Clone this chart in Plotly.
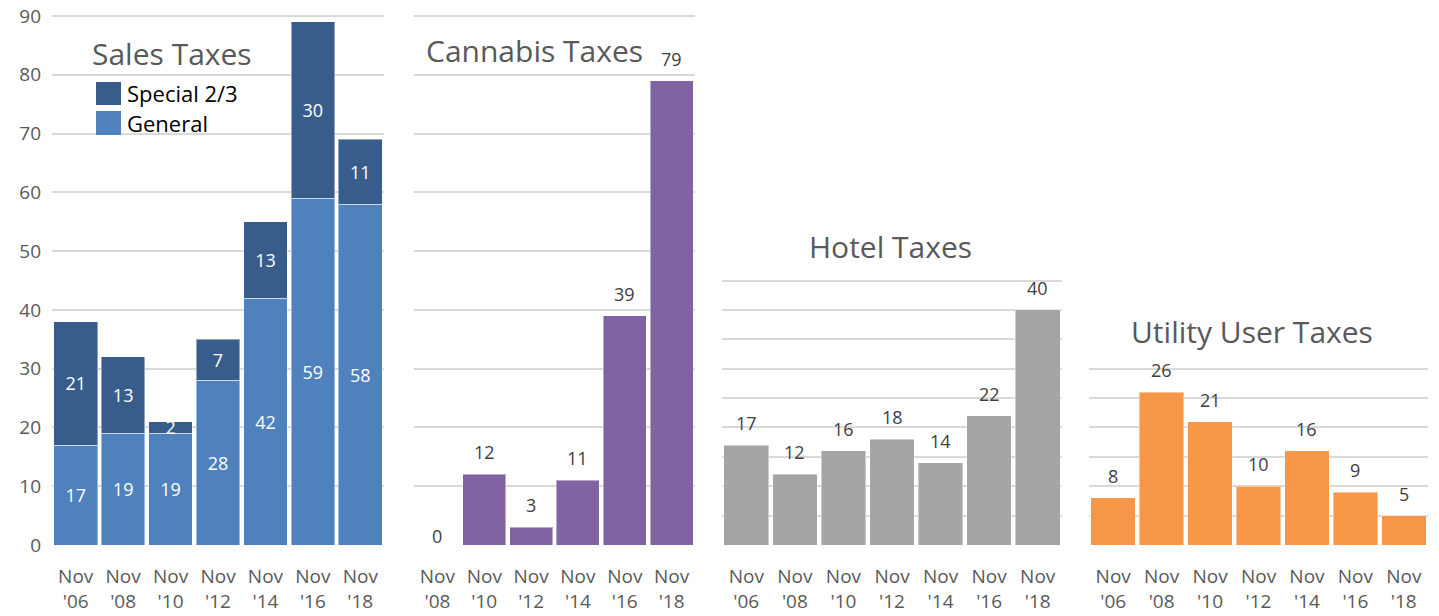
import plotly.graph_objects as go

# ---------------- data ----------------
sales_cats = ["Nov '06", "Nov '08", "Nov '10", "Nov '12", "Nov '14", "Nov '16", "Nov '18"]
sales_general = [17, 19, 19, 28, 42, 59, 58]
sales_special = [21, 13, 2, 7, 13, 30, 11]

cannabis_cats = ["Nov '08", "Nov '10", "Nov '12", "Nov '14", "Nov '16", "Nov '18"]
cannabis_vals = [0, 12, 3, 11, 39, 79]

hotel_cats = ["Nov '06", "Nov '08", "Nov '10", "Nov '12", "Nov '14", "Nov '16", "Nov '18"]
hotel_vals = [17, 12, 16, 18, 14, 22, 40]

utility_cats = ["Nov '06", "Nov '08", "Nov '10", "Nov '12", "Nov '14", "Nov '16", "Nov '18"]
utility_vals = [8, 26, 21, 10, 16, 9, 5]

panel_titles = ["Sales Taxes", "Cannabis Taxes", "Hotel Taxes", "Utility User Taxes"]
legend_names = ["Special 2/3", "General"]

# ---------------- style ----------------
W, H = 1439, 616
MT = 4             # top margin (px)
BASE = 545         # y of value 0
TOPPX = 16         # y of value 90
FONT = "Open Sans"
GRID = "#D9D9D9"
TXT = "#595959"
LBL = "#404040"
C_GENERAL = "#4F81BD"
C_SPECIAL = "#385D8A"
C_CANNABIS = "#8064A2"
C_HOTEL = "#A5A5A5"
C_UTILITY = "#F79646"

PLOT_H = BASE - MT
YMAX = PLOT_H / ((BASE - TOPPX) / 90.0)   # axis range so 90 lands on TOPPX
MB = H - BASE


def px_x(p):
    return p / W


def px_y(p):
    return (BASE - p) / PLOT_H


fig = go.Figure()

edge = dict(color="rgba(255,255,255,0.45)", width=1)

fig.add_trace(go.Bar(x=sales_cats, y=sales_general, name=legend_names[1],
                     marker=dict(color=C_GENERAL, line=edge),
                     text=[str(v) for v in sales_general], textposition="inside",
                     insidetextanchor="middle", textangle=0, constraintext="none",
                     textfont=dict(color="white", size=18, family=FONT),
                     xaxis="x", yaxis="y", showlegend=False))
fig.add_trace(go.Bar(x=sales_cats, y=sales_special, name=legend_names[0],
                     marker=dict(color=C_SPECIAL, line=edge),
                     text=[str(v) for v in sales_special], textposition="inside",
                     insidetextanchor="middle", textangle=0, constraintext="none",
                     textfont=dict(color="white", size=18, family=FONT),
                     xaxis="x", yaxis="y", showlegend=False))

single = [
    (cannabis_cats, cannabis_vals, C_CANNABIS, "x2", "y2"),
    (hotel_cats, hotel_vals, C_HOTEL, "x3", "y3"),
    (utility_cats, utility_vals, C_UTILITY, "x4", "y4"),
]
annotations = []
for cats, vals, col, xa, ya in single:
    fig.add_trace(go.Bar(x=cats, y=vals, marker=dict(color=col, line=edge),
                         xaxis=xa, yaxis=ya, showlegend=False))
    for c, v in zip(cats, vals):
        annotations.append(dict(x=c, y=v, xref=xa, yref=ya, text=str(v),
                                showarrow=False, yanchor="middle",
                                yshift=22 if v > 0 else 9,
                                font=dict(size=18, color=LBL, family=FONT)))

# panel pixel extents
domains = [(52, 384), (414, 695), (722, 1062), (1089, 1428)]
grid_tops = [90, 90, 45, 30]
grid_steps = [10, 10, 5, 5]
cat_sets = [sales_cats, cannabis_cats, hotel_cats, utility_cats]

layout = dict(
    width=W, height=H,
    margin=dict(l=0, r=0, t=MT, b=MB, pad=0, autoexpand=False),
    paper_bgcolor="white", plot_bgcolor="white",
    barmode="stack", bargap=0.08,
    uniformtext=dict(minsize=18, mode="show"),
    font=dict(family=FONT, color=TXT),
    hovermode=False,
)
for i in range(4):
    s = "" if i == 0 else str(i + 1)
    cats = cat_sets[i]
    layout["xaxis" + s] = dict(
        domain=[px_x(domains[i][0]), px_x(domains[i][1])],
        anchor="y" + s, type="category",
        tickmode="array", tickvals=cats,
        ticktext=[c.replace(" ", "<br>") for c in cats],
        tickfont=dict(size=19, color=TXT, family=FONT),
        showgrid=False, zeroline=False, showline=False, ticks="",
        ticklabelstandoff=18, automargin=False, fixedrange=True,
        ticklabeloverflow="allow",
    )
    layout["yaxis" + s] = dict(
        domain=[0, 1], anchor="x" + s, range=[0, YMAX],
        tickmode="array",
        tickvals=list(range(0, grid_tops[i] + 1, grid_steps[i])),
        showticklabels=(i == 0),
        tickfont=dict(size=19, color=TXT, family=FONT),
        showgrid=True, gridcolor=GRID, gridwidth=1.5,
        zeroline=False, showline=False, ticks="",
        ticklabelstandoff=10, automargin=False, fixedrange=True,
        ticklabeloverflow="allow",
    )

# panel titles (px centres)
title_pos = [(172, 54), (534, 51), (891, 246), (1252, 331)]
for t, (cx, cy) in zip(panel_titles, title_pos):
    annotations.append(dict(x=px_x(cx), y=px_y(cy), xref="paper", yref="paper",
                            text=t, showarrow=False, xanchor="center", yanchor="middle",
                            font=dict(size=30, color=TXT, family=FONT)))

# legend (drawn manually to match large swatches)
shapes = []
legend_items = [(legend_names[0], C_SPECIAL, 82, 105), (legend_names[1], C_GENERAL, 111, 135)]
for name, col, y0, y1 in legend_items:
    shapes.append(dict(type="rect", xref="paper", yref="paper",
                       x0=px_x(96), x1=px_x(121), y0=px_y(y1), y1=px_y(y0),
                       fillcolor=col, line=dict(width=0)))
    annotations.append(dict(x=px_x(125), y=px_y((y0 + y1) / 2), xref="paper", yref="paper",
                            text=name, showarrow=False, xanchor="left", yanchor="middle",
                            font=dict(size=22, color="black", family=FONT)))

layout["annotations"] = annotations
layout["shapes"] = shapes
fig.update_layout(**layout)

fig.write_html("out.html", config={"displayModeBar": False},
               post_script="document.body.style.margin='0';")
